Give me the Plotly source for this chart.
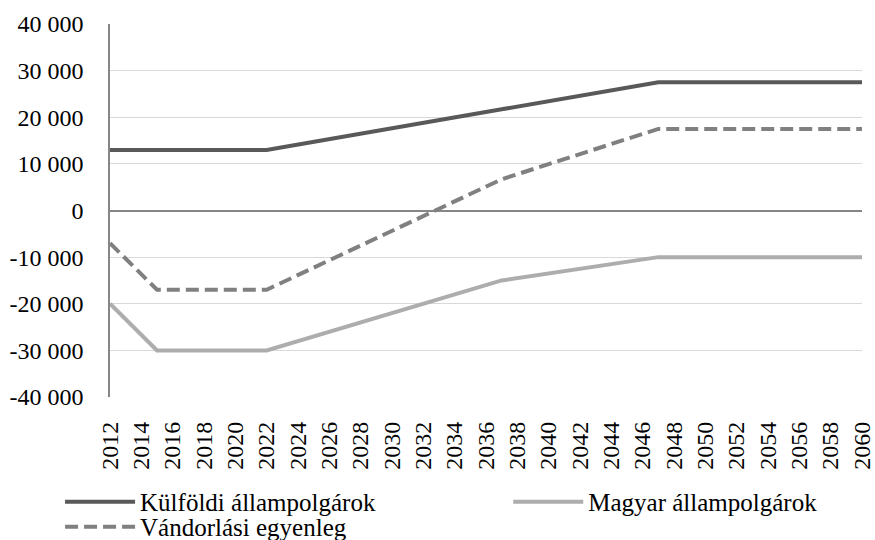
import plotly.graph_objects as go

# Breakpoint years and values
years = [2012, 2015, 2022, 2037, 2047, 2060]
kulfoldi = [13000, 13000, 13000, 21700, 27500, 27500]
magyar = [-20000, -30000, -30000, -15000, -10000, -10000]
vandorlasi = [-7000, -17000, -17000, 6700, 17500, 17500]

y_tick_vals = [-40000, -30000, -20000, -10000, 0, 10000, 20000, 30000, 40000]
y_tick_labels = ["-40 000", "-30 000", "-20 000", "-10 000", "0",
                 "10 000", "20 000", "30 000", "40 000"]

FONT = "Liberation Serif, Times New Roman, serif"
TICK_SIZE = 24
LEG_SIZE = 25

fig = go.Figure()
fig.add_trace(go.Scatter(x=years, y=kulfoldi, mode="lines",
                         name="Külföldi állampolgárok", legend="legend",
                         line=dict(color="#595959", width=4)))
fig.add_trace(go.Scatter(x=years, y=magyar, mode="lines",
                         name="Magyar állampolgárok", legend="legend2",
                         line=dict(color="#ADADAD", width=4)))
fig.add_trace(go.Scatter(x=years, y=vandorlasi, mode="lines",
                         name="Vándorlási egyenleg", legend="legend3",
                         line=dict(color="#808080", width=4, dash="13px,6px")))

leg_common = dict(orientation="v", xanchor="left", yanchor="middle", itemwidth=70,
                  font=dict(family=FONT, size=LEG_SIZE, color="black"),
                  bgcolor="rgba(0,0,0,0)", borderwidth=0)

fig.update_layout(
    width=875, height=540,
    margin=dict(l=110, r=13, t=24, b=143, autoexpand=False),
    paper_bgcolor="white", plot_bgcolor="white",
    font=dict(family=FONT, size=TICK_SIZE, color="black"),
    showlegend=True,
    legend=dict(x=-0.0664, y=-0.2815, **leg_common),
    legend2=dict(x=0.5296, y=-0.2815, **leg_common),
    legend3=dict(x=-0.0664, y=-0.3485, **leg_common),
    xaxis=dict(range=[2012, 2060], tick0=2012, dtick=2, tickangle=-90,
               showgrid=False, zeroline=False, showline=False, ticks="",
               automargin=False, ticklabelstandoff=19,
               tickfont=dict(family=FONT, size=TICK_SIZE, color="black")),
    yaxis=dict(range=[-40000, 40000], tickvals=y_tick_vals, ticktext=y_tick_labels,
               showgrid=True, gridcolor="#D9D9D9", gridwidth=1,
               zeroline=True, zerolinecolor="#868686", zerolinewidth=1.5,
               showline=True, linecolor="#868686", linewidth=1.5, ticks="",
               automargin=False, ticklabelstandoff=20,
               tickfont=dict(family=FONT, size=TICK_SIZE, color="black")),
)

fig.write_html("out.html", config={"displayModeBar": False},
               post_script="document.body.style.margin='0';")
